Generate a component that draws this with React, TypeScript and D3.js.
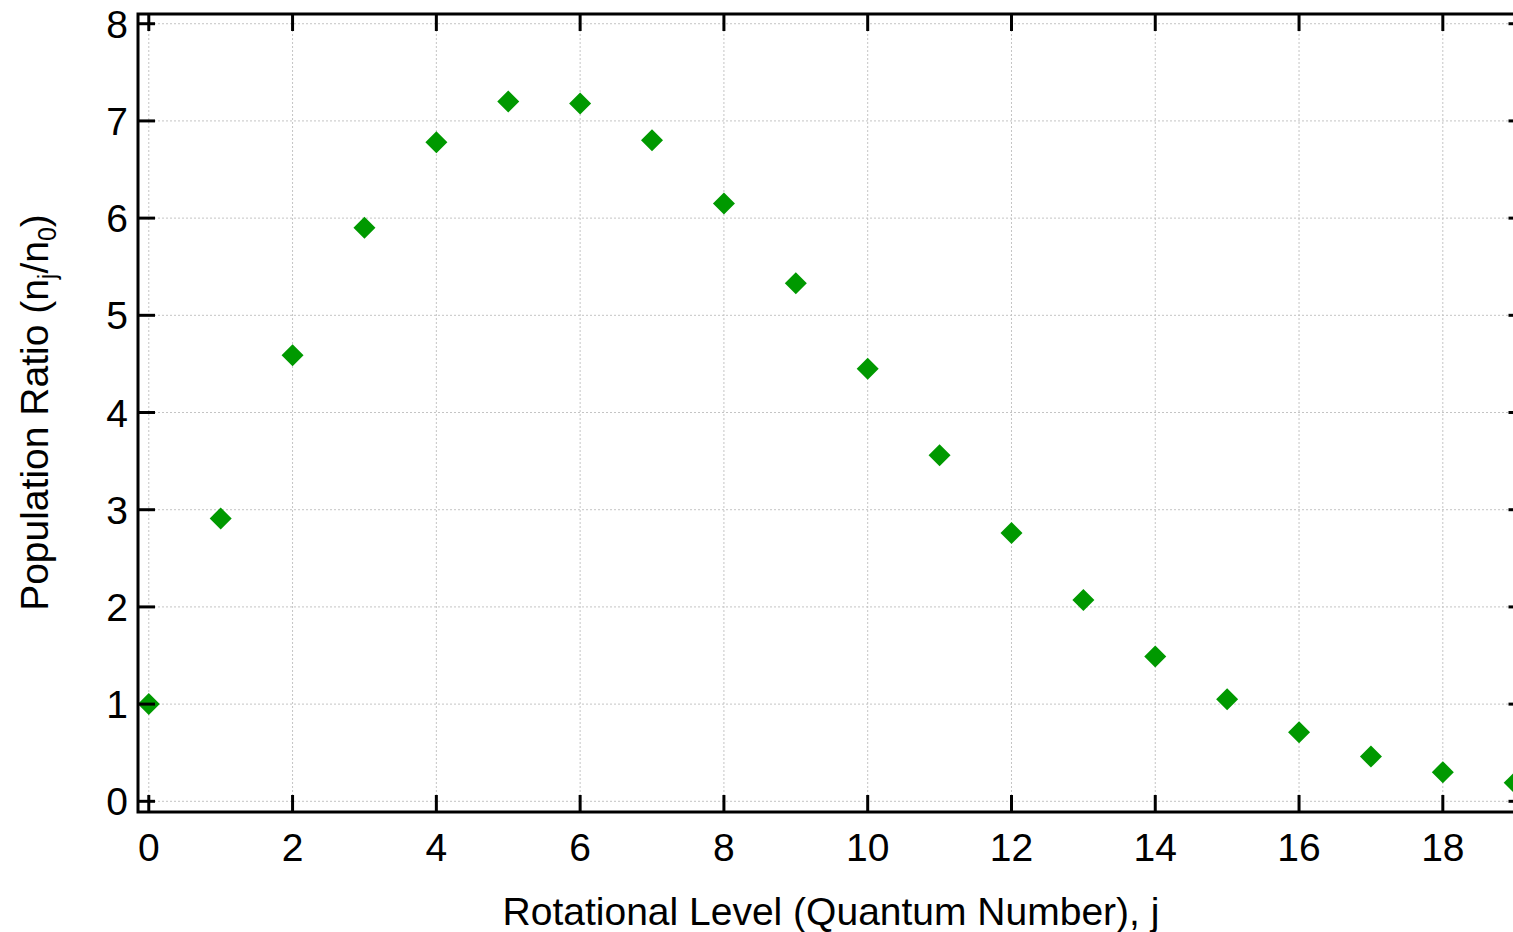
import React from 'react';
import { scaleLinear } from 'd3';

// rotational levels j and the population ratio n_j / n_0
const levels = [0, 1, 2, 3, 4, 5, 6, 7, 8, 9, 10, 11, 12, 13, 14, 15, 16, 17, 18, 19];
const ratios = [1.0, 2.91, 4.59, 5.9, 6.78, 7.2, 7.18, 6.8, 6.15, 5.33, 4.45, 3.56, 2.76, 2.07, 1.49, 1.05, 0.71, 0.46, 0.3, 0.19];

const xTicks = [0, 2, 4, 6, 8, 10, 12, 14, 16, 18];
const yTicks = [0, 1, 2, 3, 4, 5, 6, 7, 8];

const width = 1513;
const height = 932;
const font = "'Liberation Sans', Arial, sans-serif";
const green = '#009900';
const fs = 39;

const App = () => {
  const x = scaleLinear().domain([-0.15, 19.15]).range([138, 1525.5]);
  const y = scaleLinear().domain([-0.11, 8.1]).range([812, 14]);

  const [x0, x1] = x.range();
  const [y0, y1] = y.range();
  const tick = 17;
  const r = 11;

  return (
    <svg
      width={width}
      height={height}
      style={{ position: 'absolute', left: 0, top: 0, background: '#fff' }}
      fontFamily={font}
    >
      {/* grid */}
      <g stroke="#c4c4c4" strokeWidth={1} strokeDasharray="2,2">
        {xTicks.map(t => (
          <line key={'gx' + t} x1={x(t)} x2={x(t)} y1={y1} y2={y0} />
        ))}
        {yTicks.map(t => (
          <line key={'gy' + t} x1={x0} x2={x1} y1={y(t)} y2={y(t)} />
        ))}
      </g>

      {/* points */}
      <g fill={green}>
        {levels.map((j, i) => {
          const cx = x(j);
          const cy = y(ratios[i]);
          return (
            <path
              key={j}
              d={`M${cx},${cy - r}L${cx + r},${cy}L${cx},${cy + r}L${cx - r},${cy}Z`}
            />
          );
        })}
      </g>

      {/* ticks, pointing inward on all four sides */}
      <g stroke="#000" strokeWidth={3}>
        {xTicks.map(t => (
          <g key={'tx' + t}>
            <line x1={x(t)} x2={x(t)} y1={y0} y2={y0 - tick} />
            <line x1={x(t)} x2={x(t)} y1={y1} y2={y1 + tick} />
          </g>
        ))}
        {yTicks.map(t => (
          <g key={'ty' + t}>
            <line x1={x0} x2={x0 + tick} y1={y(t)} y2={y(t)} />
            <line x1={x1} x2={x1 - tick} y1={y(t)} y2={y(t)} />
          </g>
        ))}
      </g>

      {/* frame */}
      <rect x={x0} y={y1} width={x1 - x0} height={y0 - y1} fill="none" stroke="#000" strokeWidth={3} />

      {/* tick labels */}
      <g fontSize={fs} fill="#000">
        {xTicks.map(t => (
          <text key={'lx' + t} x={x(t)} y={861} textAnchor="middle">
            {t}
          </text>
        ))}
        {yTicks.map(t => (
          <text key={'ly' + t} x={128} y={y(t) + 14} textAnchor="end">
            {t}
          </text>
        ))}
      </g>

      {/* axis titles */}
      <text x={831} y={925} fontSize={fs} textAnchor="middle" fill="#000">
        Rotational Level (Quantum Number), j
      </text>
      <text
        transform={`translate(48,${y(4)}) rotate(-90)`}
        fontSize={fs}
        textAnchor="middle"
        fill="#000"
      >
        Population Ratio (n
        <tspan fontSize={25} dy={8}>j</tspan>
        <tspan dy={-8}>/n</tspan>
        <tspan fontSize={25} dy={8}>0</tspan>
        <tspan dy={-8}>)</tspan>
      </text>
    </svg>
  );
};

export default App;
